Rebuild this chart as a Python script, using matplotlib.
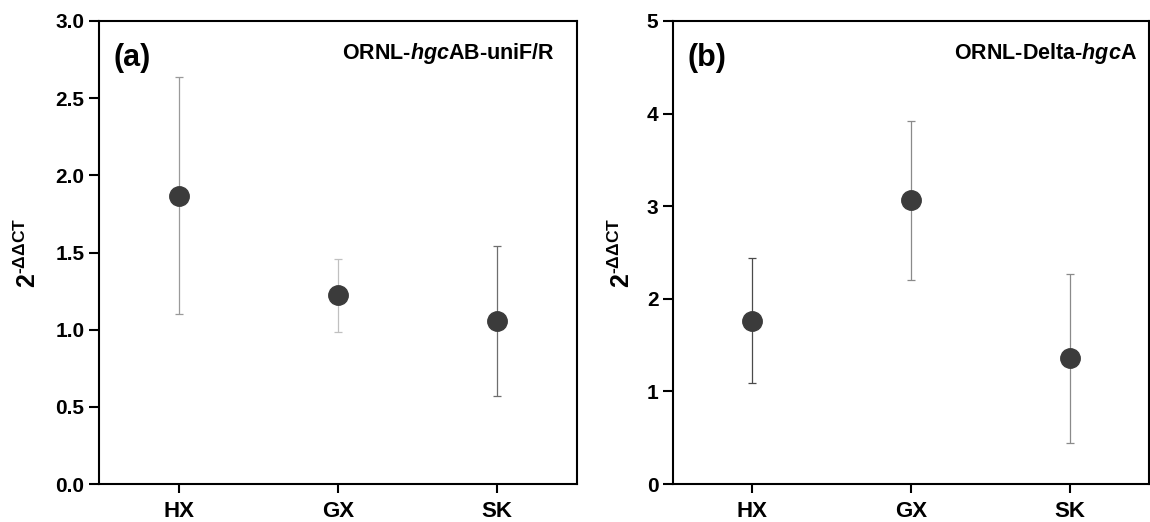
import matplotlib
matplotlib.use("Agg")
import matplotlib.pyplot as plt
import numpy as np

plt.rcParams['font.family'] = ['Liberation Sans', 'DejaVu Sans']
plt.rcParams['mathtext.fontset'] = 'custom'
plt.rcParams['mathtext.rm'] = 'Liberation Sans:bold'
plt.rcParams['mathtext.bf'] = 'Liberation Sans:bold'
plt.rcParams['mathtext.it'] = 'Liberation Sans:italic'
plt.rcParams['mathtext.bfit'] = 'Liberation Sans:italic:bold'

sites = ['HX', 'GX', 'SK']

# Panel (a) ORNL-hgcAB-uniF/R
a_mean = [1.866, 1.225, 1.056]
a_upper = [2.635, 1.46, 1.54]
a_lower = [1.10, 0.985, 0.57]
a_yticks = [0.0, 0.5, 1.0, 1.5, 2.0, 2.5, 3.0]

# Panel (b) ORNL-Delta-hgcA
b_mean = [1.76, 3.063, 1.357]
b_upper = [2.437, 3.92, 2.268]
b_lower = [1.094, 2.20, 0.446]
b_yticks = [0, 1, 2, 3, 4, 5]

fig = plt.figure(figsize=(11.5, 5.22), dpi=100)
ax1 = fig.add_axes([99/1150, 38/522, 478/1150, 463/522])
ax2 = fig.add_axes([673/1150, 38/522, 476/1150, 463/522])

ylabel = r'$\mathbf{2^{\text{-}\Delta\Delta CT}}$'

def draw(ax, mean, lo, up, ecolors, yticks, fmt, panel, title, title_x, title_y, lblx):
    x = np.arange(len(sites))
    mean = np.array(mean); lo = np.array(lo); up = np.array(up)
    for i in range(len(sites)):
        ax.errorbar(x[i], mean[i], yerr=[[mean[i]-lo[i]], [up[i]-mean[i]]],
                    fmt='none', ecolor=ecolors[i], elinewidth=0.9, capsize=3,
                    capthick=0.9, zorder=2)
    ax.plot(x, mean, 'o', color='#3b3b3b', markersize=14, zorder=3, linestyle='none')
    ax.set_xlim(-0.5, 2.5)
    ax.set_ylim(yticks[0], yticks[-1])
    ax.set_xticks(x)
    ax.set_xticklabels(sites, fontsize=16, fontweight='bold')
    ax.set_yticks(yticks)
    ax.set_yticklabels([fmt.format(v) for v in yticks], fontsize=15, fontweight='bold')
    for s in ax.spines.values():
        s.set_linewidth(1.5)
    ax.tick_params(axis='y', direction='out', length=7, width=1.5, pad=3.5)
    ax.tick_params(axis='x', direction='out', length=6.5, width=1.5, pad=6)
    ax.set_ylabel(ylabel, fontsize=18)
    ax.yaxis.set_label_coords(lblx, 0.5)
    ax.text(0.031, 0.92, panel, transform=ax.transAxes, fontsize=22,
            fontweight='bold', ha='left', va='center')
    ax.text(title_x, title_y, title, transform=ax.transAxes, fontsize=15.5,
            fontweight='bold', ha='right', va='baseline')

draw(ax1, a_mean, a_lower, a_upper, ['#9a9a9a', '#c0c0c0', '#6e6e6e'], a_yticks, '{:.1f}',
     '(a)', r'ORNL-$\mathbfit{hgc}$AB-uniF/R', 0.954, 0.918, (41-99)/478)
draw(ax2, b_mean, b_lower, b_upper, ['#4a4a4a', '#8a8a8a', '#8a8a8a'], b_yticks, '{:d}',
     '(b)', r'ORNL-Delta-$\mathbfit{hgc}$A', 0.975, 0.918, (635-673)/476)

fig.savefig('out.png', dpi=100)
